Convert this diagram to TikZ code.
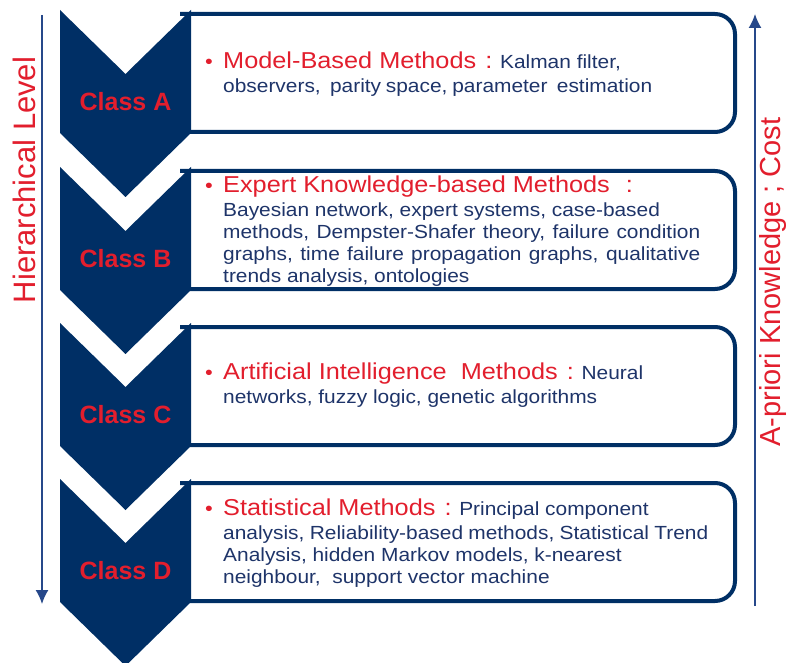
\documentclass[tikz,border=0pt]{standalone}
\usepackage{fontspec}
\setmainfont{Liberation Sans}
\newfontfamily\boxfont{Liberation Sans}[FakeStretch=1.1]
\usetikzlibrary{arrows.meta}
\definecolor{classnavy}{RGB}{0, 47, 101}
\definecolor{classred}{RGB}{226, 30, 45}
\definecolor{textnavy}{RGB}{30, 52, 105}
\definecolor{axisblue}{RGB}{38, 72, 138}
\newcommand{\titletext}[1]{{\fontsize{23}{22}\selectfont\color{classred}#1}}
\newcommand{\bul}{\llap{\makebox[18pt][l]{\fontsize{20}{22}\selectfont\color{classred}\textbullet}}}
\newcommand{\jline}[2]{\makebox[#1][s]{#2}}
\tikzset{
  chevron/.style={fill=classnavy, draw=none},
  methodbox/.style={draw=classnavy, line width=4pt, rounded corners=20pt},
  classlabel/.style={text=classred, font=\fontsize{25}{30}\selectfont\bfseries},
  methodtext/.style={anchor=north west, inner sep=0pt, align=left, text=textnavy, font=\boxfont\fontsize{19}{22}\selectfont},
  axislabel/.style={text=classred, rotate=90, inner sep=0pt},
  axisline/.style={draw=axisblue, line width=1.5pt, -{Latex[length=14pt,width=13pt]}}
}
\begin{document}
\begin{tikzpicture}[x=1pt, y=-1pt]
\useasboundingbox (0,0) rectangle (787,663);
% Method boxes, left ends hidden under the chevrons
\foreach \ct in {10,167,323,479}
  \draw[methodbox] (180,\ct+4) -- (735,\ct+4) -- (735,\ct+122) -- (180,\ct+122);

% Chevrons with class names
\foreach \ct/\cl in {10/A,167/B,323/C,479/D}{
  \fill[chevron] (60,\ct) -- (125.5,\ct+64) -- (191,\ct) -- (191,\ct+123) -- (125.5,\ct+187) -- (60,\ct+123) -- cycle;
  \node[classlabel] (class\cl) at (125.5,\ct+92) {Class \cl};
}

% Method descriptions
\node[methodtext] (textA) at (223,52) {\bul\titletext{Model-Based Methods\hspace{9pt}:} Kalman filter,\\[2pt]
  \jline{429pt}{observers,\ \ parity space, parameter\ \ estimation}};
\node[methodtext] (textB) at (223,176) {\bul\titletext{Expert Knowledge-based Methods\hspace{16pt}:}\\[2pt]
  Bayesian network, expert systems, case-based\\
  \jline{477pt}{methods, Dempster-Shafer theory, failure condition}\\
  \jline{477pt}{graphs, time failure propagation graphs, qualitative}\\
  trends analysis, ontologies};
\node[methodtext] (textC) at (223,363) {\bul\titletext{Artificial Intelligence\ \ Methods\hspace{9pt}:} Neural\\[2pt]
  networks, fuzzy logic, genetic algorithms};
\node[methodtext] (textD) at (223,499) {\bul\titletext{Statistical Methods\hspace{9pt}:} Principal component\\[2pt]
  \jline{485pt}{analysis, Reliability-based methods, Statistical Trend}\\
  Analysis, hidden Markov models, k-nearest\\
  neighbour,\ \ support vector machine};

% Axes
\coordinate (levelStart) at (42,15);
\coordinate (levelEnd) at (42,604);
\coordinate (costStart) at (755,606);
\coordinate (costEnd) at (755,14);
\draw[axisline] (levelStart) -- (levelEnd);
\draw[axisline] (costStart) -- (costEnd);
\node[axislabel, font=\fontsize{31}{31}\selectfont] (levelLabel) at (24,180) {Hierarchical Level};
\node[axislabel, font=\fontsize{29}{29}\selectfont] (costLabel) at (773,282) {A-priori Knowledge ; Cost};
\end{tikzpicture}
\end{document}
